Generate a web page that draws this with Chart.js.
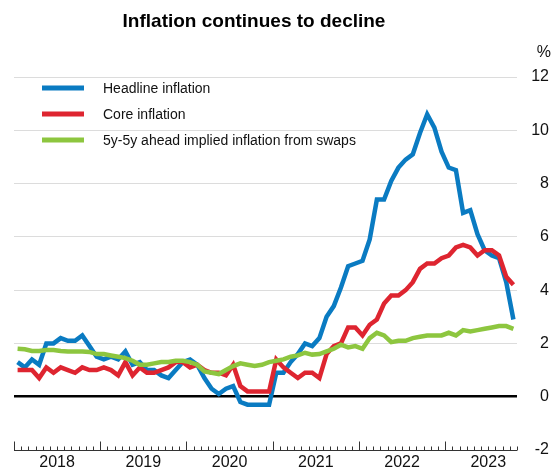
<!DOCTYPE html>
<html>
<head>
<meta charset="utf-8">
<script src="https://cdn.jsdelivr.net/npm/chart.js@4"></script>
<style>
  html, body { margin: 0; padding: 0; background: #fff; }
  #wrap { width: 553px; height: 472px; }
</style>
</head>
<body>
<div id="wrap"><canvas id="inflationChart" width="553" height="472"></canvas></div>
<script>
// Monthly data, Jan 2018 - Oct 2023 (%)
var years = ['2018', '2019', '2020', '2021', '2022', '2023'];
var yTicks = [-2, 0, 2, 4, 6, 8, 10, 12];

var headline = [
    1.3, 1.1, 1.4, 1.2, 2.0, 2.0, 2.2, 2.1, 2.1, 2.3, 1.9, 1.5,
    1.4, 1.5, 1.4, 1.7, 1.2, 1.3, 1.0, 1.0, 0.8, 0.7, 1.0, 1.3,
    1.4, 1.2, 0.7, 0.3, 0.1, 0.3, 0.4, -0.2, -0.3, -0.3, -0.3, -0.3,
    0.9, 0.9, 1.3, 1.6, 2.0, 1.9, 2.2, 3.0, 3.4, 4.1, 4.9, 5.0,
    5.1, 5.9, 7.4, 7.4, 8.1, 8.6, 8.9, 9.1, 9.9, 10.6, 10.1, 9.2,
    8.6, 8.5, 6.9, 7.0, 6.1, 5.5, 5.3, 5.2, 4.3, 2.9
];
var core = [
    1.0, 1.0, 1.0, 0.7, 1.1, 0.9, 1.1, 1.0, 0.9, 1.1, 1.0, 1.0,
    1.1, 1.0, 0.8, 1.3, 0.8, 1.1, 0.9, 0.9, 1.0, 1.1, 1.3, 1.3,
    1.1, 1.2, 1.0, 0.9, 0.9, 0.8, 1.2, 0.4, 0.2, 0.2, 0.2, 0.2,
    1.4, 1.1, 0.9, 0.7, 0.9, 0.9, 0.7, 1.6, 1.9, 2.0, 2.6, 2.6,
    2.3, 2.7, 2.9, 3.5, 3.8, 3.8, 4.0, 4.3, 4.8, 5.0, 5.0, 5.2,
    5.3, 5.6, 5.7, 5.6, 5.3, 5.5, 5.5, 5.3, 4.5, 4.2
];
var swaps5y5y = [
    1.8, 1.78, 1.72, 1.72, 1.75, 1.75, 1.72, 1.7, 1.7, 1.7, 1.68, 1.6,
    1.6, 1.55, 1.5, 1.45, 1.35, 1.2, 1.2, 1.25, 1.3, 1.3, 1.35, 1.35,
    1.3, 1.2, 0.95, 0.9, 0.85, 1.0, 1.15, 1.25, 1.2, 1.15, 1.2, 1.3,
    1.35, 1.4, 1.5, 1.55, 1.65, 1.58, 1.6, 1.7, 1.8, 1.95, 1.85, 1.9,
    1.8, 2.2, 2.4, 2.3, 2.05, 2.1, 2.1, 2.2, 2.25, 2.3, 2.3, 2.3,
    2.4, 2.3, 2.5, 2.45, 2.5, 2.55, 2.6, 2.65, 2.65, 2.55
];

var chartTitle = 'Inflation continues to decline';
var seriesLabels = ['Headline inflation', 'Core inflation', '5y-5y ahead implied inflation from swaps'];
var seriesColors = ['#0a7bc2', '#de2530', '#8dc63f'];

var FONT = '"Liberation Sans", Arial, Helvetica, sans-serif';

function toPoints(arr) {
    return arr.map(function(v, i) { return { x: i + 0.5, y: v }; });
}

// Draws title, axis baseline with monthly/yearly tick marks, the legend and the % label
var extrasPlugin = {
    id: 'extras',
    afterDraw: function(chart) {
        var ctx = chart.ctx;
        var xs = chart.scales.x;
        var ys = chart.scales.y;
        var area = chart.chartArea;
        var base = Math.round(ys.getPixelForValue(-2)) + 0.5;
        ctx.save();

        // title
        ctx.fillStyle = '#000';
        ctx.font = 'bold 19px ' + FONT;
        ctx.textAlign = 'center';
        ctx.textBaseline = 'middle';
        ctx.fillText(chartTitle, 254, 22);

        // x axis line + ticks pointing up
        ctx.strokeStyle = '#333';
        ctx.lineWidth = 1;
        ctx.beginPath();
        ctx.moveTo(area.left, base);
        ctx.lineTo(area.right, base);
        ctx.stroke();
        for (var m = 0; m <= headline.length; m++) {
            var px = Math.round(xs.getPixelForValue(m)) + 0.5;
            var len = (m % 12 === 0) ? 9 : 4;
            ctx.beginPath();
            ctx.moveTo(px, base);
            ctx.lineTo(px, base - len);
            ctx.stroke();
        }

        // legend
        ctx.font = '14px ' + FONT;
        ctx.textAlign = 'left';
        seriesLabels.forEach(function(label, i) {
            var y = 88 + i * 26;
            ctx.strokeStyle = seriesColors[i];
            ctx.lineWidth = 5;
            ctx.beginPath();
            ctx.moveTo(area.left + 28, y);
            ctx.lineTo(area.left + 70, y);
            ctx.stroke();
            ctx.fillStyle = '#111';
            ctx.fillText(label, area.left + 89, y + 1);
        });

        // % unit above the y axis
        ctx.font = '16px ' + FONT;
        ctx.textAlign = 'right';
        ctx.fillStyle = '#111';
        ctx.fillText('%', chart.width - 2, ys.getPixelForValue(12) - 24);
        ctx.restore();
    }
};

var ctx = document.getElementById('inflationChart').getContext('2d');
var inflationChart = new Chart(ctx, {
    type: 'line',
    data: {
        datasets: [
            {
                label: seriesLabels[0],
                data: toPoints(headline),
                borderColor: seriesColors[0],
                borderWidth: 4.5,
                pointRadius: 0,
                fill: false,
                order: 2
            },
            {
                label: seriesLabels[1],
                data: toPoints(core),
                borderColor: seriesColors[1],
                borderWidth: 4.5,
                pointRadius: 0,
                fill: false,
                order: 1
            },
            {
                label: seriesLabels[2],
                data: toPoints(swaps5y5y),
                borderColor: seriesColors[2],
                borderWidth: 4.5,
                pointRadius: 0,
                fill: false,
                order: 0
            }
        ]
    },
    options: {
        responsive: false,
        animation: false,
        layout: { padding: { left: 14, right: 4, top: 77, bottom: 0 } },
        plugins: {
            legend: { display: false },
            tooltip: { enabled: false },
            title: { display: false }
        },
        scales: {
            x: {
                type: 'linear',
                min: 0,
                max: headline.length,
                grid: { display: false, drawTicks: false, tickLength: 0 },
                border: { display: false },
                afterBuildTicks: function(scale) {
                    scale.ticks = years.map(function(y, i) { return { value: i * 12 + 6 }; });
                },
                afterFit: function(scale) { scale.height = 22; },
                ticks: {
                    autoSkip: false,
                    maxRotation: 0,
                    padding: 5,
                    color: '#111',
                    font: { family: FONT, size: 16, lineHeight: 1 },
                    callback: function(value) {
                        return years[Math.floor(value / 12)];
                    }
                }
            },
            y: {
                position: 'right',
                min: -2,
                max: 12,
                afterBuildTicks: function(scale) {
                    scale.ticks = yTicks.map(function(v) { return { value: v }; });
                },
                afterFit: function(scale) { scale.width = 32; },
                border: { display: false },
                grid: {
                    drawTicks: false,
                    color: function(c) {
                        if (c.tick && c.tick.value === 0) return '#000';
                        if (c.tick && c.tick.value === -2) return 'rgba(0,0,0,0)';
                        return '#dcdcdc';
                    },
                    lineWidth: function(c) {
                        return (c.tick && c.tick.value === 0) ? 2.5 : 1;
                    }
                },
                ticks: {
                    crossAlign: 'far',
                    padding: 4,
                    color: '#111',
                    font: { family: FONT, size: 16 }
                }
            }
        }
    },
    plugins: [extrasPlugin]
});
</script>
</body>
</html>
